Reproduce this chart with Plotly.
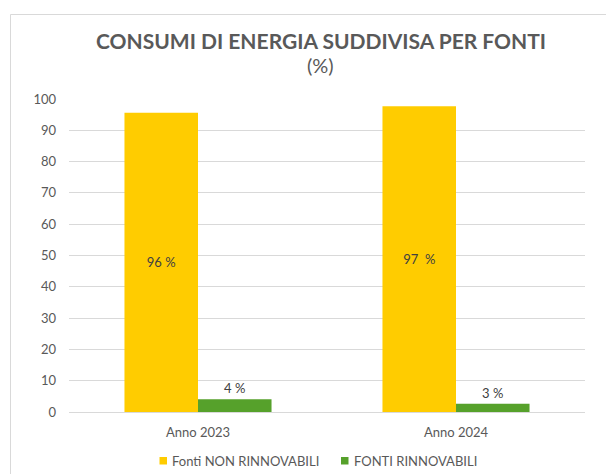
import plotly.graph_objects as go

categories = ["Anno 2023", "Anno 2024"]
non_rinnovabili = [95.6, 97.7]
rinnovabili = [4.1, 2.6]
non_rinn_labels = ["96 %", "97  %"]
rinn_labels = ["4 %", "3 %"]
series_names = ["Fonti NON RINNOVABILI", "FONTI RINNOVABILI"]
series_colors = ["#FFCC00", "#56A12B"]
y_ticks = [0, 10, 20, 30, 40, 50, 60, 70, 80, 90, 100]

FONT = "Lato"
GRAY = "#595959"

fig = go.Figure()
fig.add_trace(go.Bar(
    x=categories, y=non_rinnovabili, name=series_names[0],
    marker=dict(color=series_colors[0], line=dict(width=0)),
    text=non_rinn_labels, textposition="inside", insidetextanchor="middle",
    textfont=dict(family=FONT, size=13, color="#404040"), textangle=0,
    hoverinfo="skip",
))
fig.add_trace(go.Bar(
    x=categories, y=rinnovabili, name=series_names[1],
    marker=dict(color=series_colors[1], line=dict(width=0)),
    text=rinn_labels, textposition="outside",
    textfont=dict(family=FONT, size=13, color="#404040"), textangle=0,
    cliponaxis=False, hoverinfo="skip",
))

L, R, T, B = 69, 21, 99, 62
W, H = 606, 474
pw = W - L - R
ph = H - T - B

def px_x(p):
    return (p - L) / pw

def px_y(p):
    return (H - B - p) / ph

# custom legend (marker squares + labels)
legend_marker_x = [159.5, 341]
legend_text_x = [170, 352]
legend_y = 461
shapes = [dict(type="rect", xref="paper", yref="paper",
               x0=px_x(10.5), x1=px_x(640), y0=px_y(520), y1=px_y(14.5),
               line=dict(color="#D9D9D9", width=1), fillcolor="rgba(0,0,0,0)", layer="below")]
annotations = [
    dict(text="<b>CONSUMI DI ENERGIA SUDDIVISA PER FONTI</b>", xref="paper", yref="paper",
         x=px_x(321), y=px_y(40), xanchor="center", yanchor="middle", showarrow=False,
         font=dict(family=FONT, size=21, color=GRAY)),
    dict(text="(%)", xref="paper", yref="paper",
         x=px_x(320), y=px_y(65), xanchor="center", yanchor="middle", showarrow=False,
         font=dict(family=FONT, size=20, color=GRAY)),
]
for name, color, mx, tx in zip(series_names, series_colors, legend_marker_x, legend_text_x):
    shapes.append(dict(type="rect", xref="paper", yref="paper",
                       x0=px_x(mx), x1=px_x(mx + 7.5), y0=px_y(legend_y + 3.5), y1=px_y(legend_y - 4),
                       line=dict(width=0), fillcolor=color))
    annotations.append(dict(text=name, xref="paper", yref="paper", x=px_x(tx), y=px_y(legend_y),
                            xanchor="left", yanchor="middle", showarrow=False,
                            font=dict(family=FONT, size=13, color=GRAY)))

fig.update_layout(
    width=W, height=H,
    margin=dict(l=L, r=R, t=T, b=B, pad=0, autoexpand=False),
    paper_bgcolor="white", plot_bgcolor="white",
    barmode="group", bargap=0.43, bargroupgap=0,
    font=dict(family=FONT, size=13, color=GRAY),
    showlegend=False,
    xaxis=dict(showgrid=False, showline=True, linecolor="#D9D9D9", linewidth=1,
               ticks="", tickfont=dict(family=FONT, size=13, color=GRAY),
               ticklabelstandoff=8),
    yaxis=dict(range=[0, 100], tickvals=y_ticks, showgrid=True, gridcolor="#D9D9D9",
               gridwidth=1, zeroline=False, showline=False, ticks="",
               tickfont=dict(family=FONT, size=13, color=GRAY), ticklabelstandoff=12),
    shapes=shapes,
    annotations=annotations,
)

fig.write_html("out.html")
